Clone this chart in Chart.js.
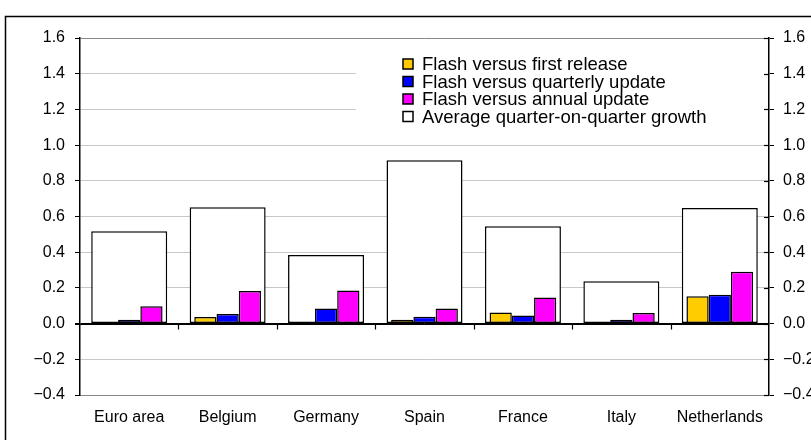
<!DOCTYPE html>
<html>
<head>
<meta charset="utf-8">
<script src="https://cdn.jsdelivr.net/npm/chart.js@4"></script>
<style>
    html, body { margin: 0; padding: 0; background: #ffffff; }
    #wrap { width: 811px; height: 440px; position: relative; }
</style>
</head>
<body>
<div id="wrap"><canvas id="revisionsChart" width="811" height="440"></canvas></div>
<script>
// Data (percentage points)
const categories = ["Euro area", "Belgium", "Germany", "Spain", "France", "Italy", "Netherlands"];
const firstRelease = [0.005, 0.037, 0, 0.022, 0.062, 0.005, 0.153];
const quarterlyUpdate = [0.022, 0.054, 0.084, 0.039, 0.045, 0.022, 0.161];
const annualUpdate = [0.097, 0.183, 0.185, 0.084, 0.146, 0.06, 0.291];
const avgGrowth = [0.518, 0.652, 0.384, 0.915, 0.546, 0.237, 0.647];
const seriesNames = [
    "Flash versus first release",
    "Flash versus quarterly update",
    "Flash versus annual update",
    "Average quarter-on-quarter growth",
];
const yMin = -0.4;
const yMax = 1.6;
const yStep = 0.2;

document.addEventListener("DOMContentLoaded", function () {
    const colors = {
        yellow: "#FFCC00",
        blue: "#0000FF",
        magenta: "#FF00FF",
        white: "#FFFFFF",
    };
    const font = { family: "Liberation Sans, Arial, sans-serif", size: 16 };

    function fmt(v) {
        const s = Math.abs(v).toFixed(1);
        return v < -1e-9 ? "\u2212" + s : s;
    }

    // frame, legend, category ticks etc.
    const decorations = {
        id: "decorations",
        beforeDraw(chart) {
            const ctx = chart.ctx;
            ctx.save();
            ctx.fillStyle = "#ffffff";
            ctx.fillRect(0, 0, chart.width, chart.height);
            ctx.strokeStyle = "#000000";
            ctx.lineWidth = 1.5;
            ctx.strokeRect(5.5, 16.5, chart.width + 20, chart.height + 20);
            ctx.restore();
        },
        beforeDatasetsDraw(chart) {
            // legend background hides the grid lines behind it
            const ctx = chart.ctx;
            ctx.save();
            ctx.fillStyle = "#ffffff";
            ctx.fillRect(356, 52, chart.chartArea.right - 357, 78);
            ctx.restore();
        },
        afterDatasetsDraw(chart) {
            const ctx = chart.ctx;
            const x = chart.scales.x;
            const y = chart.scales.y;
            const y0 = Math.round(y.getPixelForValue(0)) + 0.5;
            ctx.save();
            ctx.strokeStyle = "#000000";
            ctx.lineWidth = 1.2;
            // zero line
            ctx.beginPath();
            ctx.moveTo(chart.chartArea.left - 5, y0);
            ctx.lineTo(chart.chartArea.right, y0);
            ctx.stroke();
            // category separators below zero line
            for (let i = 1; i < categories.length; i++) {
                const px = Math.round((x.getPixelForTick(i - 1) + x.getPixelForTick(i)) / 2) + 0.5;
                ctx.beginPath();
                ctx.moveTo(px, y0);
                ctx.lineTo(px, y0 + 5);
                ctx.stroke();
            }
            // inner half of right axis ticks
            const r = chart.chartArea.right;
            chart.scales.y2.ticks.forEach((t) => {
                const py = Math.round(chart.scales.y2.getPixelForValue(t.value)) + 0.5;
                ctx.beginPath();
                ctx.moveTo(r - 5, py);
                ctx.lineTo(r, py);
                ctx.stroke();
            });

            // legend
            ctx.font = "18.5px " + font.family;
            ctx.textBaseline = "middle";
            ctx.textAlign = "left";
            const rowY = [64, 81.5, 99, 116.5];
            chart.data.datasets.forEach((ds, i) => {
                const by = rowY[i];
                ctx.fillStyle = ds.backgroundColor;
                ctx.fillRect(403, by - 5, 10, 10);
                ctx.lineWidth = 1.5;
                ctx.strokeStyle = "#000000";
                ctx.strokeRect(403, by - 5, 10, 10);
                ctx.fillStyle = "#000000";
                ctx.fillText(ds.label, 422, by + 1);
            });
            ctx.restore();
        },
    };

    const canvas = document.getElementById("revisionsChart");
    if (canvas) {
        new Chart(canvas.getContext("2d"), {
            type: "bar",
            data: {
                labels: categories,
                datasets: [
                    {
                        label: seriesNames[0],
                        data: firstRelease,
                        backgroundColor: colors.yellow,
                    },
                    {
                        label: seriesNames[1],
                        data: quarterlyUpdate,
                        backgroundColor: colors.blue,
                    },
                    {
                        label: seriesNames[2],
                        data: annualUpdate,
                        backgroundColor: colors.magenta,
                    },
                    {
                        // wide background bar, not part of the group
                        label: seriesNames[3],
                        data: avgGrowth,
                        backgroundColor: colors.white,
                        grouped: false,
                        categoryPercentage: 0.772,
                    },
                ],
            },
            options: {
                responsive: false,
                animation: false,
                layout: { padding: { top: 38, left: 0, right: 0, bottom: 0 } },
                datasets: {
                    bar: {
                        borderColor: "#000000",
                        borderWidth: 1.5,
                        borderSkipped: false,
                        barPercentage: 1.0,
                        categoryPercentage: 0.678,
                    },
                },
                plugins: {
                    legend: { display: false },
                    tooltip: { enabled: false },
                },
                scales: {
                    x: {
                        type: "category",
                        position: "bottom",
                        offset: true,
                        grid: { display: false, drawTicks: false },
                        border: { display: true, color: "#888888", width: 1 },
                        ticks: { color: "#000000", font: font, padding: 13, maxRotation: 0 },
                        afterFit(scale) { scale.height = 45; },
                    },
                    y: {
                        position: "left",
                        min: yMin,
                        max: yMax,
                        ticks: {
                            stepSize: yStep,
                            color: "#000000",
                            font: font,
                            padding: 10,
                            callback: (v) => fmt(v),
                        },
                        grid: {
                            color: (c) => {
                                const v = c.tick ? c.tick.value : 0;
                                if (Math.abs(v - yMax) < 1e-6 || Math.abs(v - yMin) < 1e-6) return "#888888";
                                if (Math.abs(v) < 1e-6) return "#000000";
                                return "#c8c8c8";
                            },
                            tickColor: "#000000",
                            tickLength: 5,
                            lineWidth: 1,
                        },
                        border: { display: true, color: "#000000", width: 1.5 },
                        afterFit(scale) { scale.width = 80; },
                    },
                    y2: {
                        position: "right",
                        min: yMin,
                        max: yMax,
                        ticks: {
                            stepSize: yStep,
                            color: "#000000",
                            font: font,
                            padding: 9,
                            callback: (v) => fmt(v),
                        },
                        grid: {
                            drawOnChartArea: false,
                            tickColor: "#000000",
                            tickLength: 5,
                        },
                        border: { display: true, color: "#000000", width: 1.5 },
                        afterFit(scale) { scale.width = 42; },
                    },
                },
            },
            plugins: [decorations],
        });
    } else {
        console.error("revisionsChart element not found");
    }
});
</script>
</body>
</html>
